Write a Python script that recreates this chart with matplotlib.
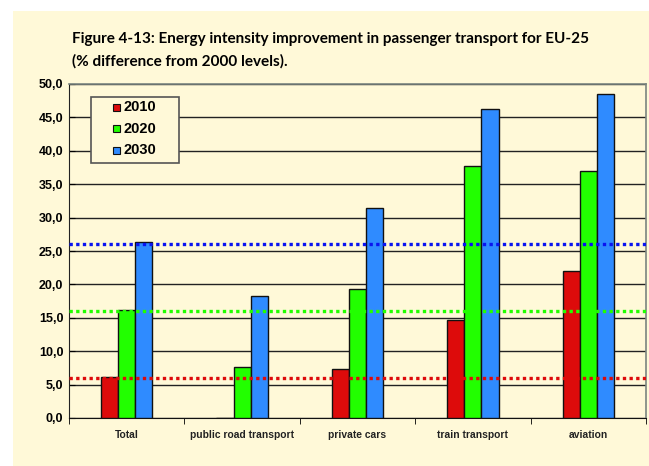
import matplotlib
matplotlib.use('Agg')
import matplotlib.pyplot as plt
import numpy as np
from matplotlib.patches import Rectangle

# Dados
categorias = ['Total', 'public road transport', 'private cars', 'train transport', 'aviation']
anos = ['2010', '2020', '2030']
v2010 = [6.1, 0.0, 7.3, 14.6, 22.0]
v2020 = [16.2, 7.6, 19.3, 37.7, 37.0]
v2030 = [26.4, 18.2, 31.4, 46.3, 48.5]
metas = [6.0, 16.0, 26.0]  # linhas pontilhadas de referência

cores = ['#DD0B0B', '#22FF00', '#2F8BFF']
cores_meta = ['#DD0B0B', '#22FF00', '#0A14F0']
fundo = '#FFF9D8'

plt.rcParams['font.family'] = ['Liberation Sans', 'DejaVu Sans']

W, H = 649, 466
fig = plt.figure(figsize=(W / 100, H / 100), dpi=100, facecolor='white')
fig.patches.append(Rectangle((13 / W, 0), 1, 1 - 11 / H, transform=fig.transFigure,
                             facecolor=fundo, edgecolor='none', zorder=-10))

ax = fig.add_axes([69 / W, 1 - 418 / H, (646 - 69) / W, (418 - 84) / H])
ax.set_facecolor(fundo)

x = np.arange(len(categorias))
w = 0.148
for i, (vals, cor) in enumerate(zip([v2010, v2020, v2030], cores)):
    ax.bar(x + (i - 1) * w, vals, width=w, color=cor, edgecolor='#111111',
           linewidth=1.0, zorder=3)

for m, c in zip(metas, cores_meta):
    ax.axhline(m, color=c, linestyle=(0, (1, 1)), linewidth=2.4, zorder=4)

ax.set_xlim(-0.5, len(categorias) - 0.5)
ax.set_ylim(0, 50)
yt = np.arange(0, 50.1, 5)
ax.set_yticks(yt)
ax.set_yticklabels([f'{v:.1f}'.replace('.', ',') for v in yt], fontsize=9, fontweight='bold')
ax.yaxis.grid(True, color='#222222', linewidth=1.0, zorder=0)
ax.set_axisbelow(True)

ax.set_xticks(x)
ax.set_xticklabels(categorias, fontsize=7.4, fontweight='bold', color='#222222')
ax.tick_params(axis='x', length=0, pad=8.5)
ax.set_xticks(np.arange(-0.5, len(categorias)), minor=True)
ax.tick_params(axis='x', which='minor', length=4, direction='out')
ax.tick_params(axis='y', length=4, direction='in', pad=4)

for s in ['top', 'right']:
    ax.spines[s].set_color('#7A8580')
    ax.spines[s].set_linewidth(1.2)
ax.spines['left'].set_color('#222222')
ax.spines['bottom'].set_color('#111111')

# Legenda desenhada à mão (caixa em pixels da figura)
def px(xp, yp):
    return xp / W, 1 - yp / H

bx0, by0 = px(91, 163)
bx1, by1 = px(179, 97)
fig.patches.append(Rectangle((bx0, by0), bx1 - bx0, by1 - by0, transform=fig.transFigure,
                             facecolor=fundo, edgecolor='#555555', linewidth=1.2, zorder=10))
for k, (ano, cor) in enumerate(zip(anos, cores)):
    yc = 107 + k * 21.5
    mx, my = px(113, yc + 3.5)
    fig.patches.append(Rectangle((mx, my), 7 / W, 7 / H, transform=fig.transFigure,
                                 facecolor=cor, edgecolor='#111111', linewidth=0.8, zorder=11))
    tx, ty = px(123, yc)
    fig.text(tx, ty, ano, fontsize=10.5, fontweight='bold', va='center', ha='left', zorder=12)

fig.text(72 / W, 1 - 50 / H,
         'Figure 4-13: Energy intensity improvement in passenger transport for EU-25\n'
         '(% difference from 2000 levels).',
         fontsize=11, fontweight='bold', va='center', ha='left', linespacing=1.7,
         family=['Lato', 'DejaVu Sans'])

fig.savefig('out.png', dpi=100, facecolor='white')
